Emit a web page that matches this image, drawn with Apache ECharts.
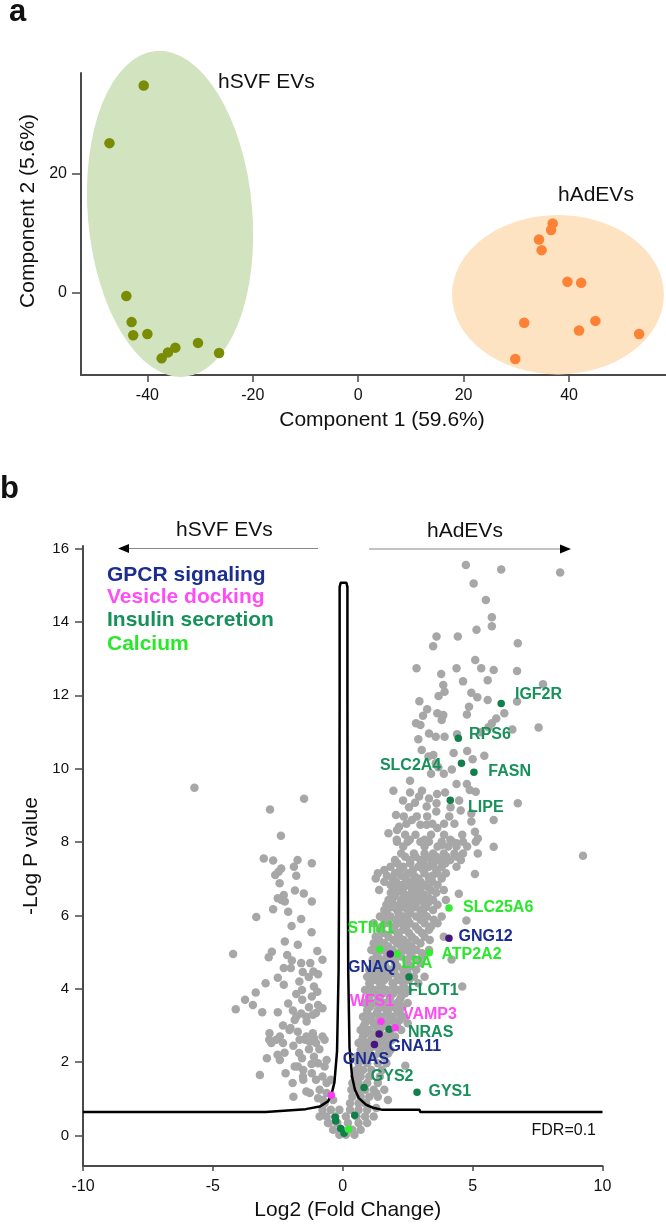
<!DOCTYPE html>
<html><head><meta charset="utf-8">
<script src="https://cdn.jsdelivr.net/npm/echarts@6/dist/echarts.min.js"></script>
<style>html,body{margin:0;padding:0;background:#fff}#c{width:666px;height:1229px}</style>
</head><body><div id="c"></div>
<script>
// ---------- Panel a: PCA ----------
const svfPC1 = [-40.7,-47.2,-44.0,-43.0,-42.7,-40.0,-37.3,-36.1,-34.7,-30.4,-26.4];
const svfPC2 = [34.8,25.1,-0.6,-5.0,-7.2,-7.0,-11.1,-10.1,-9.3,-8.5,-10.2];
const adPC1 = [36.9,36.6,34.3,34.8,39.7,42.3,31.5,45.0,41.9,53.3,29.8];
const adPC2 = [11.6,10.5,8.9,7.1,1.8,1.6,-5.1,-4.8,-6.4,-7.0,-11.2];
// group ellipses: [centerPC1, centerPC2, radiusPC1, radiusPC2, tiltDeg]
const svfEllipse = [-35.7, 13.2, 15.6, 27.5, 5];
const adEllipse = [37.9, -0.4, 20.1, 13.4, 0];
const pcaXTicks = [-40,-20,0,20,40];
const pcaYTicks = [0,20];

// ---------- Panel b: volcano ----------
const volcYTicks = [0,2,4,6,8,10,12,14,16];
// FDR = 0.1 threshold curve [log2FC, -logP]
const fdrCurve = [[-10,0.64],[-2.97,0.64],[-2.95,0.68],[-1.43,0.72],[-0.89,0.79],[-0.57,0.93],[-0.44,1.11],[-0.32,1.45],[-0.22,2.3],[-0.16,4.5],[-0.13,8],[-0.12,12],[-0.12,14.95],[-0.08,15.07],[0.14,15.07],[0.18,14.95],[0.18,12],[0.19,8],[0.21,4.5],[0.26,2.4],[0.36,1.6],[0.47,1.25],[0.62,1.02],[0.9,0.84],[1.2,0.75],[1.54,0.7],[2.96,0.7],[2.98,0.64],[10,0.64]];

const otherLeft = [[-5.71,9.48],[-1.49,9.18],[-2.8,8.89],[-2.38,8.17],[-3.04,7.55],[-2.68,7.5],[-1.74,7.51],[-1.19,7.42],[-2.37,7.28],[-2.47,7.19],[-2.6,7.1],[-1.79,7.08],[-1.88,7.33],[-2.43,6.88],[-1.84,6.68],[-2.27,6.56],[-2.36,6.42],[-2.5,6.47],[-2.23,6.38],[-1.19,6.38],[-2.68,6.17],[-3.33,5.96],[-1.97,5.71],[-1.2,5.54],[-2.23,5.29],[-1.73,5.2],[-0.98,5.03],[-4.22,4.95],[-2.73,5.01],[-2.85,4.86],[-2.14,4.92],[-1.96,4.77],[-2.0,4.57],[-2.27,4.57],[-1.25,4.7],[-1.54,4.46],[-1.31,4.32],[-1.13,4.47],[-0.95,4.4],[-0.78,4.79],[-2.97,4.15],[-2.27,4.11],[-1.67,4.2],[-1.57,3.97],[-1.11,4.06],[-0.98,3.92],[-1.19,3.79],[-3.35,3.9],[-1.56,3.7],[-1.79,3.86],[-3.76,3.7],[-3.46,3.56],[-4.12,3.44],[-3.1,3.36],[-2.5,3.36],[-1.92,3.41],[-1.79,3.24],[-1.6,3.33],[-1.4,3.24],[-1.15,3.29],[-0.95,3.56],[-0.78,3.47],[-1.03,3.34],[-1.85,3.15],[-1.39,3.11],[-2.05,2.88],[-1.73,2.83],[-2.82,2.79],[-2.56,2.61],[-1.66,2.61],[-1.4,2.7],[-1.15,2.79],[-2.01,2.93],[-2.83,2.61],[-2.75,2.52],[-2.42,2.7],[-1.44,2.61],[-1.27,2.56],[-1.11,2.65],[-1.03,2.52],[-0.78,2.7],[-0.7,2.61],[-1.68,2.25],[-1.57,2.11],[-2.92,2.11],[-2.51,2.2],[-2.42,2.06],[-1.11,2.15],[-0.95,1.97],[-0.62,2.06],[-0.7,1.88],[-3.19,1.65],[-1.85,1.88],[-1.52,1.79],[-1.93,1.43],[-1.52,1.52],[-1.19,1.7],[-1.03,1.52],[-0.78,1.61],[-0.62,1.43],[-0.46,1.52],[-1.9,1.06],[-1.27,1.16],[-0.95,1.02],[-0.7,0.88],[-0.37,0.97],[-0.62,1.16],[-2.3,2.52],[-2.24,2.26],[-1.73,1.88],[-1.53,1.61],[-1.4,1.2],[-0.89,1.25],[-0.76,0.97],[-0.89,0.52],[-0.57,0.34],
[-2.1,3.6],[-2.3,3.0],[-1.3,3.5],[-1.9,2.45],[-1.3,2.35],[-2.2,1.7],[-1.2,1.95],[-0.9,2.35],[-1.6,4.7],[-2.5,4.3],[-1.6,5.9],[-2.1,6.1],[-1.5,6.6]];

const otherRight = [[4.74,15.55],[6.10,15.43],[8.37,15.35],[5.04,15.05],[5.51,14.6],[5.74,14.13],[5.74,13.88],[5.15,13.79],[3.61,13.6],[4.43,13.6],[3.48,13.34],[6.74,13.42],[5.10,12.96],[2.84,12.74],[4.38,12.74],[5.33,12.74],[5.81,12.69],[6.71,12.66],[3.79,12.58],[5.58,12.41],[7.71,12.3],[4.63,12.38],[3.87,12.28],[3.92,12.1],[3.69,11.98],[4.95,12.07],[5.18,11.95],[5.58,11.87],[6.71,11.83],[2.95,11.84],[3.25,11.62],[4.86,11.69],[4.78,11.48],[3.64,11.51],[3.87,11.46],[3.09,11.44],[6.22,11.51],[5.91,11.37],[5.74,11.24],[3.81,11.33],[2.82,11.24],[2.99,11.19],[5.61,11.13],[7.54,11.12],[6.53,11.07],[3.32,10.96],[3.58,10.87],[2.91,10.8],[3.92,10.87],[4.4,10.94],[5.32,10.99],[4.79,10.48],[4.27,10.43],[3.49,10.37],[3.04,10.51],[3.3,10.33],[5.45,10.35],[3.58,10.15],[4.2,9.98],[3.68,10.04],[5.0,10.26],[4.38,9.58],[3.89,9.86],[3.4,9.86],[2.59,9.67],[4.78,9.58],[4.89,9.42],[5.12,9.37],[3.94,9.35],[3.63,9.31],[3.05,9.40],[2.59,9.35],[1.95,9.40],[3.32,9.19],[2.94,9.24],[2.32,9.13],[2.78,9.07],[3.61,9.06],[4.48,9.13],[6.74,9.06],[3.23,8.97],[4.54,8.86],[4.95,8.78],[3.6,8.83],[2.05,8.74],[5.81,8.6],[4.95,8.56],[2.66,8.6],[2.17,8.42],[2.99,8.47],[3.23,8.47],[3.64,8.38],[1.76,8.24],[2.09,8.33],[5.09,8.28],[4.14,8.06],[4.38,7.97],[5.2,8.1],[2.58,8.06],[3.15,8.06],[5.81,7.87],[2.08,8.06],[3.81,7.92],[9.25,7.63],
[2.4,8.2],[2.8,8.2],[3.4,8.2],[3.9,8.2],[4.6,8.2],[2.45,8.5],[3.45,8.5],[3.9,8.5],[4.3,8.5],[2.35,8.7],[2.85,8.7],[3.25,8.7],[4.1,8.7],[2.55,8.95],[4.15,8.95],
[2.09,8.01],[2.50,8.01],[2.99,8.01],[3.32,8.01],[3.81,8.01],[4.22,8.01],[4.63,8.01],[5.12,8.01],
[2.33,7.88],[3.15,7.88],[3.65,7.88],[4.06,7.88],[4.38,7.88],[4.79,7.88],
[2.25,7.69],[2.74,7.69],[3.15,7.69],[3.48,7.69],[3.89,7.69],[4.30,7.69],[4.63,7.69],[5.20,7.69],
[2.4,7.6],[2.8,7.6],[3.2,7.6],[3.6,7.6],[4.0,7.6],[4.4,7.6],
[2.01,7.51],[2.58,7.51],[2.99,7.51],[3.40,7.51],[3.73,7.51],[4.14,7.51],[4.55,7.51],
[2.1,7.42],[2.6,7.42],[3.1,7.42],[3.5,7.42],[3.95,7.42],
[1.84,7.33],[2.33,7.33],[2.91,7.33],[3.32,7.33],[3.81,7.33],[4.38,7.33],[5.09,7.13],
[1.6,7.24],[2.2,7.24],[2.7,7.24],[3.1,7.24],[3.6,7.24],
[1.35,7.15],[2.01,7.15],[2.50,7.15],[3.15,7.15],[3.65,7.15],[3.97,7.15],
[1.7,7.08],[2.25,7.08],[2.75,7.08],[3.45,7.08],
[1.27,7.01],[1.92,7.01],[2.42,7.01],[2.91,7.01],[3.32,7.01],[3.81,7.01],
[1.6,6.92],[2.05,6.92],[2.65,6.92],[3.0,6.92],[3.45,6.92],
[1.84,6.83],[2.25,6.83],[2.50,6.83],[2.83,6.83],[3.15,6.83],[3.65,6.83],
[1.95,6.76],[2.35,6.76],[2.65,6.76],[3.3,6.76],
[1.40,6.69],[2.17,6.69],[2.74,6.69],[2.99,6.69],[3.40,6.69],[3.89,6.69],
[1.85,6.62],[2.3,6.62],[2.65,6.62],[3.0,6.62],[3.6,6.62],
[2.01,6.56],[2.42,6.56],[2.91,6.56],[3.15,6.56],[4.47,6.59],
[1.95,6.49],[2.45,6.49],[2.85,6.49],[3.3,6.49],
[1.76,6.42],[2.25,6.42],[2.66,6.42],[3.07,6.42],[3.48,6.42],[3.97,6.42],
[1.9,6.35],[2.4,6.35],[2.85,6.35],[3.3,6.35],
[1.68,6.29],[2.17,6.29],[2.58,6.29],[3.15,6.29],[3.65,6.29],
[1.85,6.22],[2.3,6.22],[2.75,6.22],[3.2,6.22],
[1.60,6.15],[2.09,6.15],[2.50,6.15],[2.99,6.15],[3.48,6.15],
[1.7,6.06],[2.15,6.06],[2.6,6.06],[3.1,6.06],
[1.43,5.97],[1.84,5.97],[2.33,5.97],[2.83,5.97],[3.24,5.97],[3.81,5.97],[4.76,5.86],
[1.6,5.88],[2.05,5.88],[2.5,5.88],[3.0,5.88],[3.5,5.88],
[1.19,5.79],[1.76,5.79],[2.25,5.79],[2.58,5.79],[3.15,5.79],[3.65,5.79],
[1.5,5.7],[2.0,5.7],[2.45,5.7],[2.8,5.7],[3.4,5.7],
[1.43,5.61],[1.92,5.61],[2.33,5.61],[2.91,5.61],[3.32,5.61],
[1.55,5.52],[2.1,5.52],[2.55,5.52],[3.05,5.52],
[1.27,5.42],[1.76,5.42],[2.17,5.42],[2.66,5.42],[3.15,5.42],[3.89,5.42],
[1.4,5.33],[1.95,5.33],[2.35,5.33],[2.8,5.33],[3.35,5.33],
[1.19,5.24],[1.60,5.24],[2.09,5.24],[2.50,5.24],[2.99,5.24],
[1.35,5.15],[1.75,5.15],[2.25,5.15],[2.65,5.15],
[1.10,5.06],[1.51,5.06],[1.92,5.06],[2.42,5.06],[2.83,5.06],[3.32,5.06],[4.19,4.80],
[1.3,4.97],[1.7,4.97],[2.15,4.97],[2.6,4.97],[3.05,4.97],
[1.35,4.88],[1.76,4.88],[2.25,4.88],[2.66,4.88],[3.07,4.88],
[1.15,4.79],[1.55,4.79],[2.0,4.79],[2.45,4.79],[2.85,4.79],
[1.19,4.70],[1.60,4.70],[2.01,4.70],[2.50,4.70],[2.99,4.70],
[1.25,4.61],[1.65,4.61],[2.1,4.61],[2.6,4.61],
[1.02,4.52],[1.43,4.52],[1.84,4.52],[2.33,4.52],[2.83,4.52],
[1.15,4.42],[1.55,4.42],[2.0,4.42],[2.5,4.42],
[0.94,4.33],[1.35,4.33],[1.76,4.33],[2.25,4.33],[2.74,4.33],[3.15,4.33],
[1.2,4.24],[1.6,4.24],[2.1,4.24],[2.55,4.24],
[1.02,4.15],[1.43,4.15],[1.92,4.15],[2.33,4.15],[2.91,4.15],[4.60,4.06],
[1.05,4.06],[1.5,4.06],[1.95,4.06],[2.35,4.06],
[0.86,3.97],[1.27,3.97],[1.68,3.97],[2.17,3.97],[2.50,3.97],
[1.15,3.88],[1.55,3.88],[1.95,3.88],[2.4,3.88],
[1.02,3.79],[1.43,3.79],[1.84,3.79],[2.25,3.79],
[1.0,3.7],[1.35,3.7],[1.8,3.7],[2.2,3.7],
[0.86,3.61],[1.19,3.61],[1.60,3.61],[2.09,3.61],[2.50,3.61],
[1.05,3.51],[1.5,3.51],[1.9,3.51],[2.3,3.51],
[0.94,3.42],[1.35,3.42],[1.68,3.42],[2.09,3.42],
[0.95,3.33],[1.3,3.33],[1.75,3.33],[2.2,3.33],
[0.78,3.24],[1.10,3.24],[1.51,3.24],[1.92,3.24],[2.33,3.24],
[1.0,3.15],[1.4,3.15],[1.8,3.15],[2.2,3.15],
[0.86,3.06],[1.19,3.06],[1.60,3.06],[2.01,3.06],[2.50,3.06],
[0.8,2.97],[1.3,2.97],[1.7,2.97],[2.1,2.97],
[0.69,2.88],[1.02,2.88],[1.43,2.88],[1.84,2.88],[2.25,2.88],
[0.9,2.79],[1.3,2.79],[1.75,2.79],
[0.78,2.70],[1.19,2.70],[1.60,2.70],[2.01,2.70],
[0.75,2.61],[1.1,2.61],[1.5,2.61],[1.9,2.61],
[0.61,2.52],[0.94,2.52],[1.35,2.52],[1.76,2.52],
[0.8,2.43],[1.2,2.43],[1.6,2.43],
[0.69,2.33],[1.02,2.33],[1.43,2.33],[1.84,2.33],
[0.7,2.24],[1.0,2.24],[1.4,2.24],[1.75,2.24],
[0.53,2.15],[0.86,2.15],[1.19,2.15],[1.60,2.15],
[0.61,1.97],[0.94,1.97],[1.35,1.97],[1.68,1.97],[2.41,1.9],
[0.53,1.79],[0.78,1.79],[1.10,1.79],[1.51,1.79],
[0.45,1.61],[0.69,1.61],[1.02,1.61],[1.43,1.61],
[0.37,1.43],[0.61,1.43],[0.94,1.43],[1.35,1.43],
[0.33,1.25],[0.61,1.25],[0.86,1.25],[1.19,1.25],[1.60,1.25],[1.29,1.15],
[0.37,1.06],[0.69,1.06],[1.02,1.06],[1.35,1.06],[1.74,0.97],
[0.28,0.88],[0.61,0.88],[0.86,0.88],[0.9,0.88],[1.29,0.75],
[-0.78,0.70],[-0.46,0.70],[-0.13,0.70],[0.28,0.70],[0.61,0.70],[0.94,0.70],
[-0.62,0.52],[-0.29,0.52],[0.12,0.52],[0.53,0.52],[0.86,0.52],[1.19,0.52],
[-0.54,0.34],[-0.21,0.34],[0.20,0.34],[0.61,0.34],[0.94,0.34],
[-0.37,0.16],[-0.05,0.16],[0.37,0.16],[0.69,0.16],
[-0.13,0.02],[0.12,0.02],[0.45,0.02]];

// highlighted proteins by category
const insulinNames = ['IGF2R','RPS6','SLC2A4','FASN','LIPE','FLOT1','NRAS','GYS2','GYS1','','','','',''];
const insulinFC = [6.1,4.45,4.57,5.05,4.14,2.55,1.79,0.82,2.86,-0.29,-0.27,0.46,-0.08,0.05];
const insulinP = [11.78,10.83,10.15,9.9,9.14,4.32,2.9,1.31,1.18,0.5,0.4,0.55,0.19,0.06];
const calciumNames = ['SLC25A6','STIM1','LPA','ATP2A2',''];
const calciumFC = [4.09,1.42,2.1,3.33,0.22];
const calciumP = [6.2,5.08,4.95,4.98,0.17];
const gpcrNames = ['GNG12','GNAQ','GNAS','GNA11'];
const gpcrFC = [4.09,1.83,1.4,1.22];
const gpcrP = [5.38,4.95,2.77,2.48];
const vesicleNames = ['WFS1','VAMP3',''];
const vesicleFC = [1.47,2.02,-0.44];
const vesicleP = [3.11,2.94,1.1];

// ---------- layout / style ----------
const FONT = "'Liberation Sans', Arial, Helvetica, sans-serif";
const labelOffsets = {
  IGF2R:[17.5,-4.8], RPS6:[14.5,0.2], SLC2A4:[-77.8,5.9], FASN:[18.1,2.9], LIPE:[21.5,11.5],
  SLC25A6:[17.8,3.5], GNG12:[13.2,1.9], ATP2A2:[15.9,5.5], STIM1:[-28.5,-16.5], GNAQ:[-38.5,17.2],
  LPA:[7.9,13.8], FLOT1:[2.8,17.5], WFS1:[-27.5,-15.9], VAMP3:[11.5,-9.2], NRAS:[22.5,6.9],
  GNA11:[17.9,6.1], GNAS:[-32.5,29.2], GYS2:[10.5,-7.5], GYS1:[15.2,3.5]
};
const C = {
  gpcrDot:'#48157e', gpcrText:'#1b2d8f', vesicle:'#ff3cf5', vesicleText:'#ff4cf5',
  insulin:'#0f8048', insulinText:'#17915a', calcium:'#33ec33', calciumText:'#29e829'
};

function zip(a,b){ return a.map((v,i)=>[v,b[i]]); }
function labelled(names, xs, ys, textColor){
  return names.map((n,i)=>{
    const item = {name:n, value:[xs[i], ys[i]]};
    if (n && labelOffsets[n]) {
      item.label = {show:true, formatter:n, position:labelOffsets[n], align:'left', verticalAlign:'middle',
        color:textColor, fontSize:16, fontWeight:'bold', fontFamily:FONT};
    }
    return item;
  });
}
function ellipseSeries(e, color){
  return {
    type:'custom', xAxisIndex:0, yAxisIndex:0, z:1, clip:false, silent:true,
    data:[e],
    renderItem:function(params, api){
      const c = api.coord([api.value(0), api.value(1)]);
      const s = api.size([api.value(2), api.value(3)]);
      return {type:'circle', x:c[0], y:c[1], rotation: api.value(4)*Math.PI/180,
        scaleX: s[0]/s[1], scaleY:1, shape:{cx:0, cy:0, r:s[1]}, style:{fill:color}};
    }
  };
}
const axisLineStyle = {color:'#4a4a4a', width:2};
const tickLabel = {color:'#111', fontSize:15, fontFamily:FONT};

const chart = echarts.init(document.getElementById('c'), null, {renderer:'canvas'});
chart.setOption({
  animation:false,
  backgroundColor:'#fff',
  grid:[
    {left:81, top:73, width:585, height:302},
    {left:83, top:546, width:519.5, height:620}
  ],
  xAxis:[
    {gridIndex:0, type:'value', min:-52.6, max:58.4,
     axisLine:{onZero:false, lineStyle:axisLineStyle}, splitLine:{show:false},
     axisTick:{customValues:pcaXTicks, length:7, lineStyle:{color:'#4a4a4a', width:1.5}},
     axisLabel:{customValues:pcaXTicks, margin:13, ...tickLabel, fontSize:16},
     name:'Component 1 (59.6%)', nameLocation:'middle', nameGap:35,
     nameTextStyle:{fontSize:21, color:'#111', fontFamily:FONT, padding:[0,0,0,17]}},
    {gridIndex:1, type:'value', min:-10, max:10, interval:5,
     axisLine:{onZero:false, lineStyle:axisLineStyle}, splitLine:{show:false},
     axisTick:{length:5, lineStyle:{color:'#4a4a4a', width:1.5}},
     axisLabel:{margin:13, ...tickLabel, fontSize:16},
     name:'Log2 (Fold Change)', nameLocation:'middle', nameGap:33,
     nameTextStyle:{fontSize:21, color:'#111', fontFamily:FONT, padding:[0,0,0,10]}}
  ],
  yAxis:[
    {gridIndex:0, type:'value', min:-13.9, max:36.9,
     axisLine:{onZero:false, lineStyle:axisLineStyle}, splitLine:{show:false},
     axisTick:{customValues:pcaYTicks, length:9, lineStyle:{color:'#4a4a4a', width:1.5}},
     axisLabel:{customValues:pcaYTicks, margin:14, ...tickLabel, fontSize:16},
     name:'Component 2 (5.6%)', nameLocation:'middle', nameGap:38, nameRotate:90,
     nameTextStyle:{fontSize:21, color:'#111', fontFamily:FONT, padding:[0,0,0,26]}},
    {gridIndex:1, type:'value', min:-0.83, max:16.07,
     axisLine:{onZero:false, lineStyle:axisLineStyle}, splitLine:{show:false},
     axisTick:{customValues:volcYTicks, length:8, lineStyle:{color:'#4a4a4a', width:1.5}},
     axisLabel:{customValues:volcYTicks, margin:14, ...tickLabel},
     name:'-Log P value', nameLocation:'middle', nameGap:36, nameRotate:90,
     nameTextStyle:{fontSize:21, color:'#111', fontFamily:FONT}}
  ],
  series:[
    ellipseSeries(svfEllipse, '#d2e3c0'),
    ellipseSeries(adEllipse, '#fde3c1'),
    {type:'scatter', xAxisIndex:0, yAxisIndex:0, z:3, symbolSize:10.5, data:zip(svfPC1, svfPC2),
     itemStyle:{color:'#7a8c03', opacity:1}},
    {type:'scatter', xAxisIndex:0, yAxisIndex:0, z:3, symbolSize:10.5, data:zip(adPC1, adPC2),
     itemStyle:{color:'#fd8235', opacity:1}},
    {type:'scatter', xAxisIndex:1, yAxisIndex:1, z:2, symbolSize:8.5, data:otherLeft.concat(otherRight),
     itemStyle:{color:'#a7a7a7', opacity:1}},
    {type:'line', xAxisIndex:1, yAxisIndex:1, z:3, data:fdrCurve, showSymbol:false, symbol:'none',
     lineStyle:{color:'#000', width:2.5}},
    {type:'scatter', xAxisIndex:1, yAxisIndex:1, z:4, symbolSize:7.5, data:labelled(insulinNames, insulinFC, insulinP, C.insulinText),
     itemStyle:{color:C.insulin, opacity:1}},
    {type:'scatter', xAxisIndex:1, yAxisIndex:1, z:4, symbolSize:7.5, data:labelled(calciumNames, calciumFC, calciumP, C.calciumText),
     itemStyle:{color:C.calcium, opacity:1}},
    {type:'scatter', xAxisIndex:1, yAxisIndex:1, z:4, symbolSize:7.5, data:labelled(gpcrNames, gpcrFC, gpcrP, C.gpcrText),
     itemStyle:{color:C.gpcrDot, opacity:1}},
    {type:'scatter', xAxisIndex:1, yAxisIndex:1, z:4, symbolSize:7.5, data:labelled(vesicleNames, vesicleFC, vesicleP, C.vesicleText),
     itemStyle:{color:C.vesicle, opacity:1}}
  ],
  graphic:[
    {type:'text', left:9, top:-3, style:{text:'a', font:'bold 31px '+FONT, fill:'#111'}},
    {type:'text', left:0, top:474, style:{text:'b', font:'bold 31px '+FONT, fill:'#111'}},
    {type:'text', left:218, top:72, style:{text:'hSVF EVs', font:'21px '+FONT, fill:'#111'}},
    {type:'text', left:558, top:185, style:{text:'hAdEVs', font:'21px '+FONT, fill:'#111'}},
    {type:'text', left:176, top:520, style:{text:'hSVF EVs', font:'21px '+FONT, fill:'#111'}},
    {type:'text', left:427, top:521, style:{text:'hAdEVs', font:'21px '+FONT, fill:'#111'}},
    {type:'line', shape:{x1:126, y1:548.5, x2:318, y2:548.5}, style:{stroke:'#888', lineWidth:1.2}},
    {type:'polygon', shape:{points:[[118,548.5],[129,544],[129,553]]}, style:{fill:'#000'}},
    {type:'line', shape:{x1:369, y1:549, x2:562, y2:549}, style:{stroke:'#888', lineWidth:1.2}},
    {type:'polygon', shape:{points:[[571,549],[560,544.5],[560,553.5]]}, style:{fill:'#000'}},
    {type:'text', left:107, top:565, style:{text:'GPCR signaling', font:'bold 21px '+FONT, fill:C.gpcrText}},
    {type:'text', left:107, top:587, style:{text:'Vesicle docking', font:'bold 21px '+FONT, fill:C.vesicleText}},
    {type:'text', left:107, top:610, style:{text:'Insulin secretion', font:'bold 21px '+FONT, fill:C.insulinText}},
    {type:'text', left:107, top:634, style:{text:'Calcium', font:'bold 21px '+FONT, fill:C.calciumText}},
    {type:'text', right:70, top:1123, style:{text:'FDR=0.1', font:'16px '+FONT, fill:'#111'}}
  ]
});
</script>
</body></html>
